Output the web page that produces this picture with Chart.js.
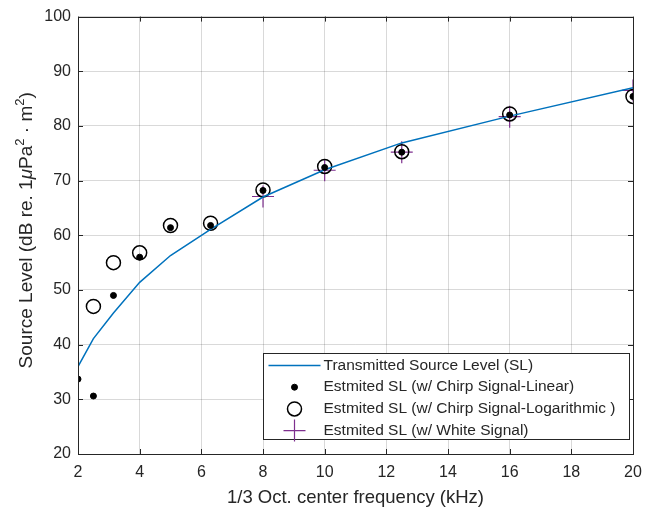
<!DOCTYPE html>
<html>
<head>
<meta charset="utf-8">
<script src="https://cdn.jsdelivr.net/npm/chart.js@4.4.0/dist/chart.umd.min.js"></script>
<style>
  html, body { margin: 0; padding: 0; background: #fff; }
  #wrap { width: 654px; height: 507px; position: relative; }
</style>
</head>
<body>
<div id="wrap"><canvas id="slChart"></canvas></div>
<script>
// 1/3 octave center frequencies (kHz)
const freqs = [2, 2.5, 3.15, 4, 5, 6.3, 8, 10, 12.5, 16, 20];

const transmittedSL = [36.0, 41.1, 45.8, 51.4, 56.3, 61.1, 67.0, 72.0, 76.9, 81.8, 87.0];
const chirpLinear   = [33.7, 30.6, 49.0, 56.0, 61.4, 61.8, 68.2, 72.4, 75.2, 82.0, 85.4];
const chirpLog      = [null, 47.0, 55.0, 56.8, 61.8, 62.2, 68.3, 72.6, 75.3, 82.2, 85.4];
const whiteSignal   = [null, null, null, null, null, null, 67.1, 71.9, 75.2, 81.7, 86.5];

const xTicks = [2, 4, 6, 8, 10, 12, 14, 16, 18, 20];
const yTicks = [20, 30, 40, 50, 60, 70, 80, 90, 100];

const seriesNames = [
  'Transmitted Source Level (SL)',
  'Estmited SL (w/ Chirp Signal-Linear)',
  'Estmited SL (w/ Chirp Signal-Logarithmic )',
  'Estmited SL (w/ White Signal)'
];

const FONT = "'Liberation Sans', Arial, Helvetica, sans-serif";
const INK = '#262626';
const BLUE = '#0072BD';
const PURPLE = '#7E2F8E';

function toPoints(vals) {
  return freqs.map((f, i) => ({ x: f, y: vals[i] })).filter(p => p.y !== null);
}

// y label with real superscripts: [text, style] pieces
const yTitleParts = [
  ['Source Level (dB re. 1', 'n'],
  ['\u03BC', 'i'],
  ['Pa', 'n'],
  ['2', 's'],
  [' \u00B7 m', 'n'],
  ['2', 's'],
  [')', 'n']
];

function drawYTitle(ctx, cx, cy) {
  const big = 19, small = 13;
  const fontFor = (st) => st === 's' ? small + 'px ' + FONT
    : st === 'i' ? 'italic ' + big + 'px ' + FONT : big + 'px ' + FONT;
  let total = 0;
  yTitleParts.forEach(p => { ctx.font = fontFor(p[1]); total += ctx.measureText(p[0]).width; });
  ctx.save();
  ctx.translate(cx, cy);
  ctx.rotate(-Math.PI / 2);
  ctx.fillStyle = INK;
  ctx.textBaseline = 'alphabetic';
  let x = -total / 2;
  yTitleParts.forEach(p => {
    ctx.font = fontFor(p[1]);
    ctx.fillText(p[0], x, p[1] === 's' ? -1 : 7);
    x += ctx.measureText(p[0]).width;
  });
  ctx.restore();
}

// MATLAB-ish box, inward ticks and the legend inside the axes
const matlabBox = {
  id: 'matlabBox',
  afterDatasetsDraw(chart) {
    const { ctx, chartArea: a, scales } = chart;
    ctx.save();
    ctx.strokeStyle = INK;
    ctx.lineWidth = 1;
    // inward ticks
    const tl = 5;
    ctx.beginPath();
    xTicks.forEach(v => {
      const px = Math.round(scales.x.getPixelForValue(v)) + 0.5;
      ctx.moveTo(px, a.bottom); ctx.lineTo(px, a.bottom - tl);
      ctx.moveTo(px, a.top); ctx.lineTo(px, a.top + tl);
    });
    yTicks.forEach(v => {
      const py = Math.round(scales.y.getPixelForValue(v)) + 0.5;
      ctx.moveTo(a.left, py); ctx.lineTo(a.left + tl, py);
      ctx.moveTo(a.right, py); ctx.lineTo(a.right - tl, py);
    });
    ctx.stroke();
    ctx.strokeRect(Math.round(a.left) + 0.5, Math.round(a.top) + 0.5,
      Math.round(a.right - a.left), Math.round(a.bottom - a.top));

    drawYTitle(ctx, 25, (a.top + a.bottom) / 2 - 5);

    // legend
    const bw = 366, rowH = 21.7, bh = 86;
    const bx = Math.round(a.right - 4 - bw) + 0.5;
    const by = Math.round(a.bottom - 15 - bh) + 0.5;
    ctx.fillStyle = '#fff';
    ctx.fillRect(bx, by, bw, bh);
    ctx.strokeStyle = INK;
    ctx.lineWidth = 1;
    ctx.strokeRect(bx, by, bw, bh);
    ctx.font = '15.5px ' + FONT;
    ctx.textBaseline = 'middle';
    const symX = bx + 31;
    const textX = bx + 60;
    chart.data.datasets.forEach((ds, i) => {
      const cy = by + 12 + i * rowH;
      ctx.fillStyle = INK;
      ctx.fillText(ds.label, textX, cy);
      ctx.save();
      if (i === 0) {
        ctx.strokeStyle = ds.borderColor;
        ctx.lineWidth = 1.5;
        ctx.beginPath(); ctx.moveTo(bx + 5, cy); ctx.lineTo(bx + 57, cy); ctx.stroke();
      } else {
        ctx.fillStyle = ds.pointBackgroundColor;
        ctx.strokeStyle = ds.pointBorderColor;
        ctx.lineWidth = ds.borderWidth;
        Chart.helpers.drawPoint(ctx, {
          pointStyle: ds.pointStyle,
          radius: ds.pointRadius,
          rotation: 0,
          borderWidth: ds.borderWidth
        }, symX, cy);
      }
      ctx.restore();
    });
    ctx.restore();
  }
};

new Chart(document.getElementById('slChart'), {
  type: 'scatter',
  plugins: [matlabBox],
  data: {
    datasets: [
      {
        label: seriesNames[0],
        type: 'line',
        data: toPoints(transmittedSL),
        borderColor: BLUE,
        borderWidth: 1.5,
        pointRadius: 0,
        fill: false,
        tension: 0,
        order: 1
      },
      {
        label: seriesNames[1],
        data: toPoints(chirpLinear),
        pointStyle: 'circle',
        pointRadius: 3,
        borderWidth: 1,
        pointBackgroundColor: '#000',
        pointBorderColor: '#000',
        order: 0
      },
      {
        label: seriesNames[2],
        data: toPoints(chirpLog),
        pointStyle: 'circle',
        pointRadius: 7,
        borderWidth: 1.5,
        pointBackgroundColor: 'rgba(0,0,0,0)',
        pointBorderColor: '#000',
        order: 2
      },
      {
        label: seriesNames[3],
        data: toPoints(whiteSignal),
        pointStyle: 'cross',
        pointRadius: 11,
        borderWidth: 1.2,
        pointBackgroundColor: PURPLE,
        pointBorderColor: PURPLE,
        order: 3
      }
    ]
  },
  options: {
    responsive: true,
    maintainAspectRatio: false,
    animation: false,
    events: [],
    layout: { padding: { left: 0, right: 21, top: 16, bottom: 0 } },
    plugins: {
      legend: { display: false },
      tooltip: { enabled: false }
    },
    scales: {
      x: {
        type: 'linear',
        min: 2, max: 20,
        afterBuildTicks: (s) => { s.ticks = xTicks.map(v => ({ value: v })); },
        afterFit: (s) => { s.height = 53; },
        grid: { color: 'rgba(0,0,0,0.15)', drawTicks: false },
        border: { display: false },
        ticks: { color: INK, font: { family: FONT, size: 16 }, padding: 9, maxRotation: 0 },
        title: {
          display: true,
          text: '1/3 Oct. center frequency (kHz)',
          color: INK,
          font: { family: FONT, size: 18.5, lineHeight: 1 },
          padding: { top: 2, bottom: 0 }
        }
      },
      y: {
        type: 'linear',
        min: 20, max: 100,
        afterBuildTicks: (s) => { s.ticks = yTicks.map(v => ({ value: v })); },
        afterFit: (s) => { s.width = 78; },
        grid: { color: 'rgba(0,0,0,0.15)', drawTicks: false },
        border: { display: false },
        ticks: { color: INK, font: { family: FONT, size: 16 }, padding: 7 }
      }
    }
  }
});
</script>
</body>
</html>
